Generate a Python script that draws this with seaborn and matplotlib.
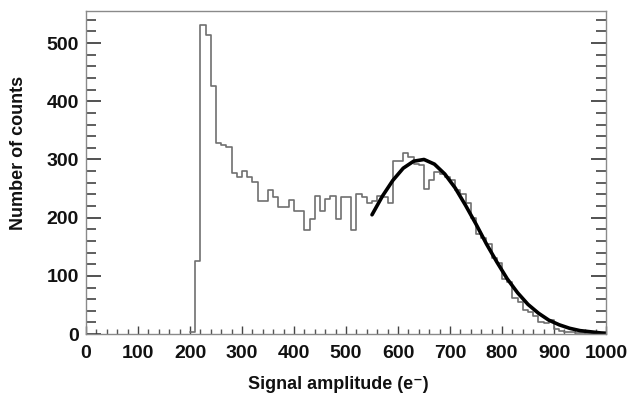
import numpy as np
import pandas as pd
import matplotlib
matplotlib.use('Agg')
import matplotlib.pyplot as plt
from matplotlib.ticker import MultipleLocator
import seaborn as sns

# histogram: left bin edges (e-) and counts, 10 e- bins
bin_left = list(range(200, 1000, 10))
counts = [4, 126, 531, 514, 427, 328, 325, 322, 276, 270,
          281, 270, 261, 229, 229, 248, 235, 219, 219, 230,
          212, 212, 179, 198, 238, 212, 232, 238, 198, 235,
          236, 178, 241, 235, 226, 229, 238, 235, 226, 297,
          297, 311, 305, 293, 290, 250, 265, 278, 275, 270,
          265, 247, 240, 225, 200, 172, 165, 155, 130, 122,
          95, 90, 62, 55, 42, 38, 31, 20, 19, 24,
          8, 6, 4, 3, 2, 2, 1, 1, 1, 0]
bin_width = 10

# fitted curve, points
fit_x = [550, 570, 590, 610, 630, 650, 670, 690, 710, 730, 750, 770,
         790, 810, 830, 850, 870, 890, 910, 930, 950, 970, 990, 1000]
fit_y = [205, 237, 264, 285, 297, 300, 292, 275, 251, 221, 189, 155,
         124, 95, 71, 51, 36, 24, 16, 10, 6, 4, 2, 1.5]

x_ticks = [0, 100, 200, 300, 400, 500, 600, 700, 800, 900, 1000]
y_ticks = [0, 100, 200, 300, 400, 500]

hist_df = pd.DataFrame({'center': [b + bin_width / 2 for b in bin_left], 'count': counts})
fit_df = pd.DataFrame({'x': fit_x, 'y': fit_y})
edges = bin_left + [bin_left[-1] + bin_width]

sns.set_style('white')
plt.rcParams['font.family'] = ['Liberation Sans', 'DejaVu Sans']
plt.rcParams['font.weight'] = 'bold'

fig = plt.figure(figsize=(6.31, 3.94), dpi=100)
ax = fig.add_axes([0.1363, 0.152, 0.8241, 0.820])

sns.histplot(data=hist_df, x='center', weights='count', bins=edges,
             element='step', fill=False, color='#707070', linewidth=1.2, ax=ax)
sns.lineplot(data=fit_df, x='x', y='y', color='black', linewidth=2.6, ax=ax)

ax.set_xlim(0, 1000)
ax.set_ylim(0, 555)
ax.set_xticks(x_ticks)
ax.set_yticks(y_ticks)
ax.xaxis.set_minor_locator(MultipleLocator(20))
ax.yaxis.set_minor_locator(MultipleLocator(20))

ax.tick_params(axis='x', which='major', direction='in', length=6, width=1,
               color='#444444', labelsize=14, pad=8, labelcolor='#111111',
               bottom=True, top=False)
ax.tick_params(axis='x', which='minor', direction='in', length=3.5, width=1,
               color='#555555', bottom=True, top=False)
ax.tick_params(axis='y', which='major', direction='in', length=11, width=1.1,
               color='#222222', labelsize=14, pad=5, left=True, right=True,
               labelcolor='#111111')
ax.tick_params(axis='y', which='minor', direction='in', length=7, width=1.1,
               color='#333333', left=True, right=True)
for lab in ax.get_xticklabels() + ax.get_yticklabels():
    lab.set_fontweight('bold')

for s in ax.spines.values():
    s.set_color('#8a8a8a')
    s.set_linewidth(1.0)

ax.set_xlabel('Signal amplitude (e\u207b)', fontsize=13, fontweight='bold', color='#111111')
ax.set_ylabel('Number of counts', fontsize=13, fontweight='bold', color='#111111')
ax.xaxis.set_label_coords(0.485, -0.13)
ax.yaxis.set_label_coords(-0.113, 0.56)

fig.savefig('out.png', dpi=100)
